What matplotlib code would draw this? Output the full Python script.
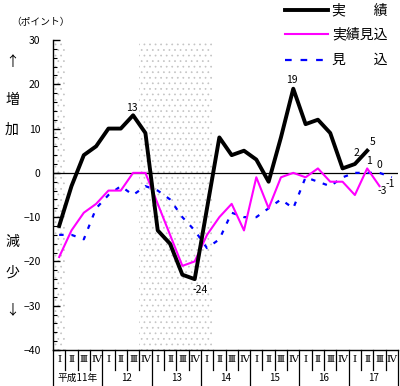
import matplotlib
matplotlib.use('Agg')
import matplotlib.pyplot as plt
from matplotlib.lines import Line2D
from matplotlib.ticker import MultipleLocator
import matplotlib.transforms as mtrans
import numpy as np

plt.rcParams['font.family'] = ['Noto Sans CJK JP', 'DejaVu Sans']

# data
years = ['平成11年', '12', '13', '14', '15', '16', '17']
quarters = ['Ⅰ', 'Ⅱ', 'Ⅲ', 'Ⅳ']
jisseki = [-12, -3, 4, 6, 10, 10, 13, 9, -13, -16, -23, -24, -8, 8, 4, 5, 3, -2, 8, 19, 11, 12, 9, 1, 2, 5]
jisseki_mikomi = [-19, -13, -9, -7, -4, -4, 0, 0, -7, -14, -21, -20, -14, -10, -7, -13, -1, -8, -1, 0, -1, 1, -2, -2, -5, 1, -3]
mikomi = [-14, -14, -15, -8, -5, -3, -5, -3, -4, -6, -10, -13, -17, -15, -9, -10, -10, -8, -6, -8, -1, -2, -3, -1, 0, 0, 0, -1]
# shaded periods, quarter index from .. to (inclusive)
shade_spans = [(0, 0), (7, 12)]
# values that get a number written next to them
labelled_j = [6, 11, 19, 24, 25]
labelled_jm = [25, 26]
labelled_m = [26, 27]

W, H = 400, 386
def fx(px):
    return px / W
def fy(py):
    return 1 - py / H

fig = plt.figure(figsize=(W / 100, H / 100), dpi=100)
ax = fig.add_axes([fx(53), fy(350), (398 - 53) / W, 310 / H])

n = len(years) * len(quarters)
x = np.arange(n)
ax.set_xlim(-0.5, n - 0.5)
ax.set_ylim(-40, 30)

plt.rcParams['hatch.linewidth'] = 0.5
for a, b in shade_spans:
    ax.axvspan(a - 0.5, b + 0.5, ymin=0, ymax=1, facecolor='white', edgecolor='#c4c4c4',
               hatch='...', linewidth=0, zorder=0)

ax.axhline(0, color='black', lw=0.9, zorder=1)
ax.plot(x[:len(mikomi)], mikomi, color='#0000ff', lw=1.6, ls=(0, (2, 3.5)), zorder=2)
ax.plot(x[:len(jisseki_mikomi)], jisseki_mikomi, color='#ff00ff', lw=1.5, zorder=3)
ax.plot(x[:len(jisseki)], jisseki, color='black', lw=2.8, zorder=4)

fs_lab = 7.5
offs_j = {6: (-1, 2, 'bottom'), 11: (4, -4, 'top'), 19: (-1, 3, 'bottom'), 24: (1, 4, 'bottom'), 25: (4, 3, 'bottom')}
for i in labelled_j:
    dx, dy, va = offs_j[i]
    ax.annotate(str(jisseki[i]), (i, jisseki[i]), xytext=(dx, dy), textcoords='offset points',
                ha='center', va=va, fontsize=fs_lab)
offs_jm = {25: (1, 2, 'bottom'), 26: (2, 0, 'top')}
for i in labelled_jm:
    dx, dy, va = offs_jm[i]
    ax.annotate(str(jisseki_mikomi[i]), (i, jisseki_mikomi[i]), xytext=(dx, dy), textcoords='offset points',
                ha='center', va=va, fontsize=fs_lab)
offs_m = {26: (0, 2, 'bottom'), 27: (-1, -1, 'top')}
for i in labelled_m:
    dx, dy, va = offs_m[i]
    ax.annotate(str(mikomi[i]), (i, mikomi[i]), xytext=(dx, dy), textcoords='offset points',
                ha='center', va=va, fontsize=fs_lab)

for s in ['top', 'right']:
    ax.spines[s].set_visible(False)
ax.spines['left'].set_linewidth(1.0)
ax.spines['bottom'].set_linewidth(1.0)
ax.set_xticks([])
ax.yaxis.set_major_locator(MultipleLocator(10))
ax.yaxis.set_minor_locator(MultipleLocator(2))
ax.tick_params(axis='y', which='major', direction='in', length=5, width=1, labelsize=7.5, pad=9)
ax.tick_params(axis='y', which='minor', direction='in', length=3, width=0.8)

# quarter / year table under the axis
tr = mtrans.blended_transform_factory(ax.transData, ax.transAxes)
q_bot = -20 / 310
y_bot = -36 / 310
for q in range(n + 1):
    low = y_bot if q % 4 == 0 else q_bot
    ax.plot([q - 0.5, q - 0.5], [0, low], color='black', lw=0.9, transform=tr, clip_on=False)
for i in range(n):
    ax.text(i, -10 / 310, quarters[i % 4], transform=tr, ha='center', va='center', fontsize=7.5,
            family=['DejaVu Serif', 'Noto Sans CJK JP'])
for k, yr in enumerate(years):
    ax.text(4 * k + 1.5, -28 / 310, yr, transform=tr, ha='center', va='center', fontsize=7)

# side texts
fig.text(fx(41), fy(22), '（ポイント）', ha='center', va='center', fontsize=7)
for t, py in [('↑', 62), ('増', 100), ('加', 130), ('減', 242), ('少', 273), ('↓', 310)]:
    fig.text(fx(12), fy(py), t, ha='center', va='center', fontsize=10)

# legend
fig.add_artist(Line2D([fx(285), fx(328)], [fy(10), fy(10)], color='black', lw=2.8))
fig.add_artist(Line2D([fx(285), fx(328)], [fy(34), fy(34)], color='#ff00ff', lw=1.5))
fig.add_artist(Line2D([fx(285), fx(328)], [fy(60), fy(60)], color='#0000ff', lw=1.6, ls=(0, (3, 4))))
fig.text(fx(332), fy(10), '実　　績', ha='left', va='center', fontsize=10)
fig.text(fx(332), fy(34), '実績見込', ha='left', va='center', fontsize=10)
fig.text(fx(332), fy(60), '見　　込', ha='left', va='center', fontsize=10)

fig.savefig('out.png', dpi=100)
